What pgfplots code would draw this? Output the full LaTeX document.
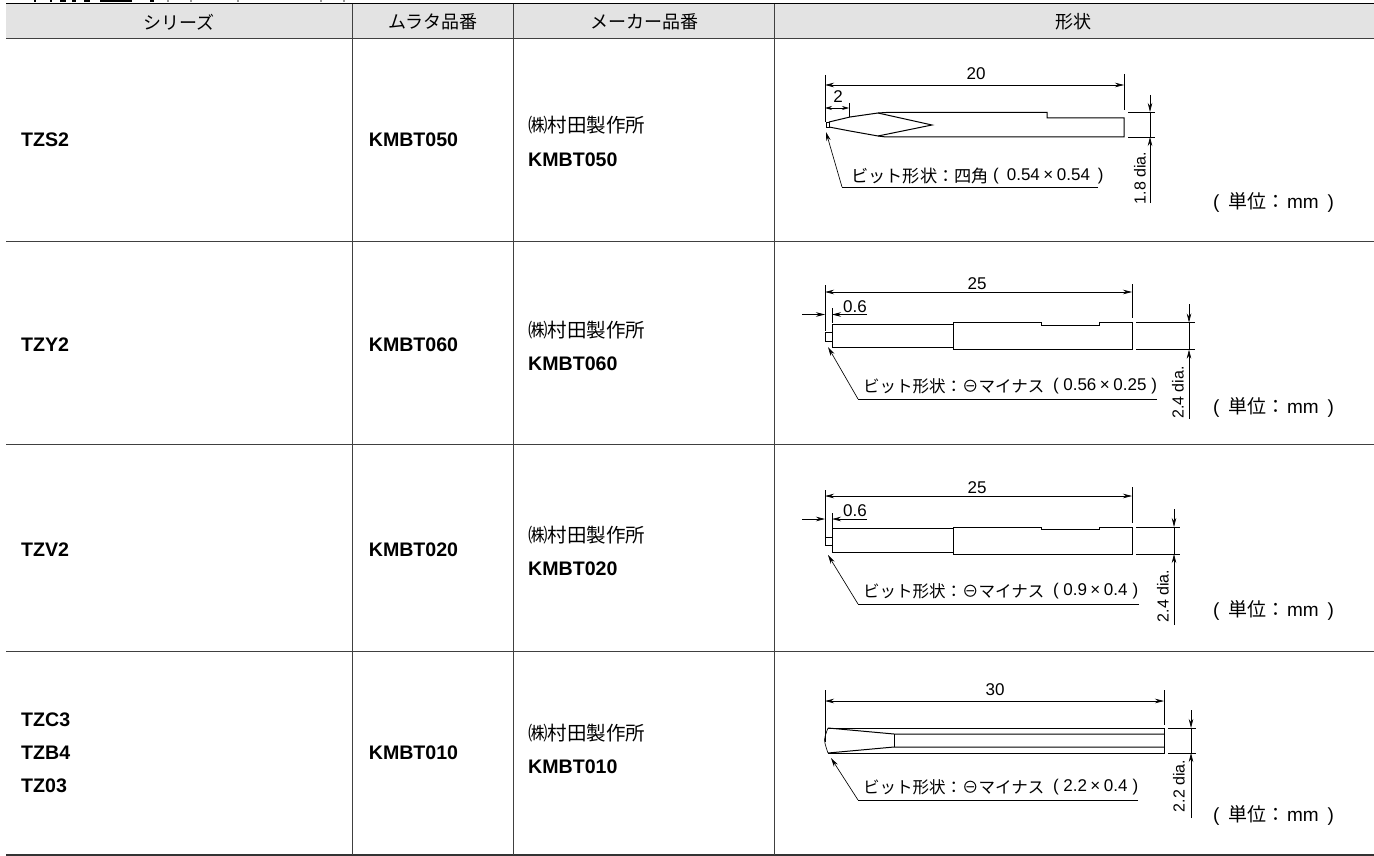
\documentclass[border=0pt]{standalone}
\usepackage{pgfplots}
\pgfplotsset{compat=1.18}
\usepackage{fontspec}
\setmainfont{Liberation Sans}
\newfontfamily\cjk{Noto Sans CJK JP}
\usetikzlibrary{arrows.meta}
\newcommand{\xB}[1]{{\bfseries\fontsize{19.6}{22}\selectfont #1}}
\newcommand{\xH}[1]{{\cjk\fontsize{18}{20}\selectfont #1}}
\newcommand{\xM}[1]{{\cjk\fontsize{19.5}{22}\selectfont #1}}
\newcommand{\xU}{{\fontsize{19}{20}\selectfont(\hspace{8.5pt}{\cjk\fontsize{19}{20}\selectfont 単位：}\hspace{2pt}mm\hspace{9pt})}}
\newcommand{\xD}[1]{{\fontsize{17}{19}\selectfont #1}}
\newcommand{\xR}[1]{{\fontsize{16}{18}\selectfont #1}}
\newcommand{\xJ}[1]{{\cjk\fontsize{16.5}{18}\selectfont #1}}
\newcommand{\xP}[2]{{\fontsize{17}{18}\selectfont(\hspace{4.5pt}#1\hspace{3.5pt}×\hspace{3.5pt}#2\hspace{5pt})}}
\newcommand{\xPw}[2]{{\fontsize{17}{18}\selectfont(\hspace{8pt}#1\hspace{3.5pt}×\hspace{3.5pt}#2\hspace{8pt})}}
\pgfplotsset{ln/.style={black,line width=1pt,no markers,forget plot},
  dim/.style={black,line width=0.65pt,no markers,forget plot},
  dimA/.style={dim,{Stealth[length=9pt,width=4.5pt]}-{Stealth[length=9pt,width=4.5pt]}},
  dimE/.style={dim,-{Stealth[length=9pt,width=4.5pt]}},
  rule/.style={black!75,line width=1pt,forget plot}}
\begin{document}
\begin{tikzpicture}[x=1pt,y=1pt]
\begin{axis}[at={(0,0)},anchor=south west,scale only axis,width=1374pt,height=856pt,
  xmin=0,xmax=1374,ymin=0,ymax=856,y dir=reverse,axis lines=none,clip=false]
% header fill
\addplot[draw=none,fill=black!11,forget plot] coordinates {(6,4) (1374,4) (1374,38) (6,38)} --cycle;
% remnants of the cropped caption at the very top edge
\addplot[black,line width=2pt,forget plot] coordinates {(35,0) (35,2)};
\addplot[black,line width=2pt,forget plot] coordinates {(51,0) (51,2)};
\addplot[black,line width=2pt,forget plot] coordinates {(60,1) (66,1)};
\addplot[black,line width=2pt,forget plot] coordinates {(72,1) (76,1)};
\addplot[black,line width=2pt,forget plot] coordinates {(84,1) (90,1)};
\addplot[black,line width=2pt,forget plot] coordinates {(100,1) (132,1)};
\addplot[black,line width=2pt,forget plot] coordinates {(150,1) (154,1)};
\addplot[black!40,line width=1.5pt,forget plot] coordinates {(167,1) (169,1)};
\addplot[black!40,line width=1.5pt,forget plot] coordinates {(190,1) (192,1)};
\addplot[black!40,line width=1.5pt,forget plot] coordinates {(237,1) (239,1)};
\addplot[black!40,line width=1.5pt,forget plot] coordinates {(320,1) (322,1)};
\addplot[black!40,line width=1.5pt,forget plot] coordinates {(343,1) (345,1)};
% table rules
\addplot[black,line width=1.8pt,forget plot] coordinates {(6,3.5) (1374,3.5)};
\addplot[rule] coordinates {(6,38.5) (1374,38.5)};
\addplot[rule] coordinates {(6,241.5) (1374,241.5)};
\addplot[rule] coordinates {(6,444.5) (1374,444.5)};
\addplot[rule] coordinates {(6,651.5) (1374,651.5)};
\addplot[black!80,line width=1.4pt,forget plot] coordinates {(6,855) (1374,855)};
\addplot[rule] coordinates {(352.5,4) (352.5,855)};
\addplot[rule] coordinates {(513.5,4) (513.5,855)};
\addplot[rule] coordinates {(774.5,4) (774.5,855)};
% header text
\node at (axis cs:179,22) {\xH{シリーズ}};
\node at (axis cs:433,22) {\xH{ムラタ品番}};
\node at (axis cs:644,22) {\xH{メーカー品番}};
\node at (axis cs:1073,22) {\xH{形状}};
% cells
\node[anchor=west,inner sep=0] at (axis cs:21,140) {\xB{TZS2}};
\node[anchor=west,inner sep=0] at (axis cs:21,345) {\xB{TZY2}};
\node[anchor=west,inner sep=0] at (axis cs:21,550) {\xB{TZV2}};
\node[anchor=west,inner sep=0] at (axis cs:21,720) {\xB{TZC3}};
\node[anchor=west,inner sep=0] at (axis cs:21,753) {\xB{TZB4}};
\node[anchor=west,inner sep=0] at (axis cs:21,786) {\xB{TZ03}};
\node at (axis cs:413.5,140) {\xB{KMBT050}};
\node at (axis cs:413.5,345) {\xB{KMBT060}};
\node at (axis cs:413.5,550) {\xB{KMBT020}};
\node at (axis cs:413.5,753) {\xB{KMBT010}};
\node[anchor=west,inner sep=0] at (axis cs:528,125) {\xM{㈱村田製作所}};
\node[anchor=west,inner sep=0] at (axis cs:528,160) {\xB{KMBT050}};
\node[anchor=west,inner sep=0] at (axis cs:528,330) {\xM{㈱村田製作所}};
\node[anchor=west,inner sep=0] at (axis cs:528,364) {\xB{KMBT060}};
\node[anchor=west,inner sep=0] at (axis cs:528,535) {\xM{㈱村田製作所}};
\node[anchor=west,inner sep=0] at (axis cs:528,569) {\xB{KMBT020}};
\node[anchor=west,inner sep=0] at (axis cs:528,733) {\xM{㈱村田製作所}};
\node[anchor=west,inner sep=0] at (axis cs:528,767) {\xB{KMBT010}};
\node[anchor=west,inner sep=0] at (axis cs:1213,202) {\xU};
\node[anchor=west,inner sep=0] at (axis cs:1213,407) {\xU};
\node[anchor=west,inner sep=0] at (axis cs:1213,610) {\xU};
\node[anchor=west,inner sep=0] at (axis cs:1213,815) {\xU};
%% ---------- bit 1
\addplot[dim] coordinates {(825,75) (825,122)};
\addplot[dim] coordinates {(1124,74) (1124,110)};
\addplot[dimA] coordinates {(825,85) (1124,85)};
\addplot[dim] coordinates {(849,103) (849,117)};
\addplot[dim,{Stealth[length=7pt,width=4pt]}-{Stealth[length=7pt,width=4pt]}] coordinates {(825,108) (849,108)};
\node at (axis cs:976,74) {\xD{20}};
\node at (axis cs:838,97) {\xD{2}};
\addplot[ln] coordinates {(829,122) (850,117) (878,113) (886,112.5) (1047,112.5) (1047,118) (1124,118) (1124,137) (886,137) (878,136) (850,131) (829,127)};
\addplot[ln] coordinates {(878,113) (932,125) (878,136)};
\addplot[dim] coordinates {(826,122) (829,122) (829,127) (826,127) (826,122)};
\addplot[dim] coordinates {(1128,112) (1155,112)};
\addplot[dim] coordinates {(1128,137) (1155,137)};
\addplot[dim] coordinates {(1150,112) (1150,137)};
\addplot[dimE] coordinates {(1150,95) (1150,112)};
\addplot[dimE] coordinates {(1150,203) (1150,137)};
\node[rotate=90,inner sep=0] at (axis cs:1140,178) {\xR{1.8 dia.}};
\addplot[dim] coordinates {(1098,187) (842,187)};
\addplot[dimE] coordinates {(842,187) (826,132)};
\node[anchor=west,inner sep=0] at (axis cs:851,176) {{\cjk\fontsize{17.2}{18}\selectfont ビット形状：四角}};
\node[anchor=west,inner sep=0] at (axis cs:993,176) {\xPw{0.54}{0.54}};
%% ---------- bit 2
\addplot[dim] coordinates {(825,285) (825,331)};
\addplot[dim] coordinates {(1132,284) (1132,318)};
\addplot[dimA] coordinates {(825,292) (1132,292)};
\addplot[dim] coordinates {(832,308) (832,323)};
\addplot[dimE] coordinates {(802,314.5) (825,314.5)};
\addplot[dimE] coordinates {(867,314.5) (832,314.5)};
\node at (axis cs:977,284) {\xD{25}};
\node at (axis cs:855,307) {\xD{0.6}};
\addplot[ln] coordinates {(832,324) (953,324) (953,347.5) (832,347.5) (832,324)};
\addplot[ln] coordinates {(953,322.5) (1041.5,322.5) (1041.5,325) (1099,325) (1099,322.5) (1132,322.5) (1132,349.7) (953,349.7) (953,322.5)};
\addplot[dim] coordinates {(825,332) (832,332) (832,341) (825,341) (825,332)};
\addplot[dim] coordinates {(1136,322.5) (1195,322.5)};
\addplot[dim] coordinates {(1136,349.7) (1195,349.7)};
\addplot[dim] coordinates {(1189,322.5) (1189,349.7)};
\addplot[dimE] coordinates {(1189,304) (1189,322.5)};
\addplot[dimE] coordinates {(1189,419) (1189,349.7)};
\node[rotate=90,inner sep=0] at (axis cs:1178,392.5) {\xR{2.4 dia.}};
\addplot[dim] coordinates {(1157,399) (858,399)};
\addplot[dimE] coordinates {(858,399) (828,347)};
\node[anchor=west,inner sep=0] at (axis cs:863,386) {\xJ{ビット形状：⊖マイナス}};
\node[anchor=west,inner sep=0] at (axis cs:1053,386) {\xP{0.56}{0.25}};
%% ---------- bit 3
\addplot[dim] coordinates {(825,490) (825,537)};
\addplot[dim] coordinates {(1132,487) (1132,523)};
\addplot[dimA] coordinates {(825,496) (1132,496)};
\addplot[dim] coordinates {(832,513) (832,528)};
\addplot[dimE] coordinates {(802,519) (825,519)};
\addplot[dimE] coordinates {(867,519) (832,519)};
\node at (axis cs:977,488) {\xD{25}};
\node at (axis cs:855,511) {\xD{0.6}};
\addplot[ln] coordinates {(832,528) (953,528) (953,552) (832,552) (832,528)};
\addplot[ln] coordinates {(953,527) (1041.5,527) (1041.5,529) (1099,529) (1099,527) (1132,527) (1132,554) (953,554) (953,527)};
\addplot[dim] coordinates {(825,537) (832,537) (832,545.5) (825,545.5) (825,537)};
\addplot[dim] coordinates {(1136,527) (1180,527)};
\addplot[dim] coordinates {(1136,554) (1180,554)};
\addplot[dim] coordinates {(1174,527) (1174,554)};
\addplot[dimE] coordinates {(1174,509) (1174,527)};
\addplot[dimE] coordinates {(1174,625) (1174,554)};
\node[rotate=90,inner sep=0] at (axis cs:1163,596) {\xR{2.4 dia.}};
\addplot[dim] coordinates {(1139,604) (858,604)};
\addplot[dimE] coordinates {(858,604) (828,555)};
\node[anchor=west,inner sep=0] at (axis cs:863,591) {\xJ{ビット形状：⊖マイナス}};
\node[anchor=west,inner sep=0] at (axis cs:1053,591) {\xP{0.9}{0.4}};
%% ---------- bit 4
\addplot[dim] coordinates {(825,690) (825,742)};
\addplot[dim] coordinates {(1164,690) (1164,725)};
\addplot[dimA] coordinates {(825,701) (1164,701)};
\node at (axis cs:995,690) {\xD{30}};
\addplot[ln] coordinates {(828,728) (1164,728) (1164,753) (828,753)};
\addplot[ln] coordinates {(828,728) (894,734) (1164,734)};
\addplot[ln] coordinates {(828,753) (894,747) (1164,747)};
\addplot[ln] coordinates {(894,734) (894,747)};
\addplot[dim,smooth] coordinates {(828,728) (824.5,740) (828,753)};
\addplot[dim] coordinates {(1168,728) (1196,728)};
\addplot[dim] coordinates {(1168,753) (1196,753)};
\addplot[dim] coordinates {(1191,728) (1191,753)};
\addplot[dimE] coordinates {(1191,710) (1191,728)};
\addplot[dimE] coordinates {(1191,818) (1191,753)};
\node[rotate=90,inner sep=0] at (axis cs:1179,786) {\xR{2.2 dia.}};
\addplot[dim] coordinates {(1138,800) (858,800)};
\addplot[dimE] coordinates {(858,800) (831,758)};
\node[anchor=west,inner sep=0] at (axis cs:863,787) {\xJ{ビット形状：⊖マイナス}};
\node[anchor=west,inner sep=0] at (axis cs:1053,787) {\xP{2.2}{0.4}};
\end{axis}
\pgfresetboundingbox
\path[use as bounding box] (0,0) rectangle (1374pt,856pt);
\end{tikzpicture}
\end{document}
